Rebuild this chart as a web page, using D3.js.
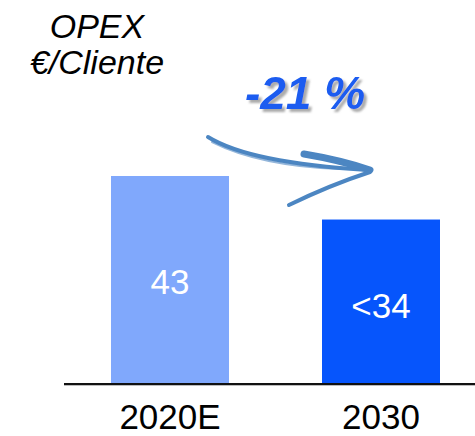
<!DOCTYPE html>
<html><head><meta charset="utf-8">
<script src="https://cdn.jsdelivr.net/npm/d3@7/dist/d3.min.js"></script>
<style>body{margin:0;background:#fff}</style>
</head><body>
<svg id="c" width="475" height="436"></svg>
<script>
const categories = ["2020E", "2030"];
const values = [43, 34];
const valueLabels = ["43", "<34"];
const colors = ["#80A8FC", "#0655FC"];
const titleLines = ["OPEX", "€/Cliente"];
const changeLabel = "-21 %";

const svg = d3.select("#c");
const defs = svg.append("defs");
const f = defs.append("filter").attr("id", "sh").attr("x", "-10%").attr("y", "-10%").attr("width", "130%").attr("height", "140%");
f.append("feDropShadow").attr("dx", 3).attr("dy", 3).attr("stdDeviation", 1.2).attr("flood-color", "#888").attr("flood-opacity", 0.7);

const font = "Liberation Sans, Arial, sans-serif";
const baseY = 384;
const x = d3.scaleBand().domain(categories).range([111, 440]).paddingInner(0.4408).paddingOuter(0);
const y = d3.scaleLinear().domain([0, 43]).range([baseY, 176]);

// bars
svg.selectAll("rect.bar").data(categories).join("rect")
  .attr("x", d => x(d)).attr("width", x.bandwidth())
  .attr("y", (d, i) => y(values[i])).attr("height", (d, i) => baseY - y(values[i]))
  .attr("fill", (d, i) => colors[i]);

// value labels
svg.selectAll("text.val").data(categories).join("text")
  .attr("x", d => x(d) + x.bandwidth() / 2)
  .attr("y", (d, i) => i === 0 ? 294 : 318)
  .attr("text-anchor", "middle").attr("fill", "#fff")
  .style("font-family", font).style("font-size", "35px")
  .text((d, i) => valueLabels[i]);

// axis
svg.append("line").attr("x1", 64).attr("x2", 475).attr("y1", baseY + 1.5).attr("y2", baseY + 1.5)
  .attr("stroke", "#bbb").attr("stroke-width", 1);
const ax = d3.axisBottom(x).tickSize(0).tickPadding(0);
const g = svg.append("g").attr("transform", `translate(0,${baseY})`).call(ax);
g.select(".domain").attr("stroke", "#111").attr("stroke-width", 2).attr("d", "M64,0H475");
g.selectAll(".tick text").attr("dy", null).attr("y", 45)
  .style("font-family", font).style("font-size", "35px").attr("fill", "#000");

// title
svg.selectAll("text.title").data(titleLines).join("text")
  .attr("x", 97).attr("y", (d, i) => 38 + i * 36)
  .attr("text-anchor", "middle")
  .style("font-family", font).style("font-size", "34px").style("font-style", "italic")
  .text(d => d);

// arrow (brush-stroke look)
const arrow = svg.append("g").attr("fill", "none").attr("stroke", "#4C86C2").attr("stroke-linecap", "round");
arrow.append("path").attr("d", "M208,137 Q250,163 368,170").attr("stroke-width", 4);
arrow.append("path").attr("d", "M212,142 Q260,166 340,169").attr("stroke-width", 2).attr("opacity", 0.6);
arrow.append("path").attr("d", "M304,154 Q340,160 370,170").attr("stroke-width", 7);
arrow.append("path").attr("d", "M370,172 Q330,185 289,205").attr("stroke-width", 4);

// change label with shadow
svg.append("text").attr("x", 305).attr("y", 109).attr("text-anchor", "middle")
  .style("font-family", font).style("font-size", "46px").style("font-weight", "bold").style("font-style", "italic")
  .attr("fill", "#1A5CF0").attr("filter", "url(#sh)").text(changeLabel);
</script>
</body></html>
